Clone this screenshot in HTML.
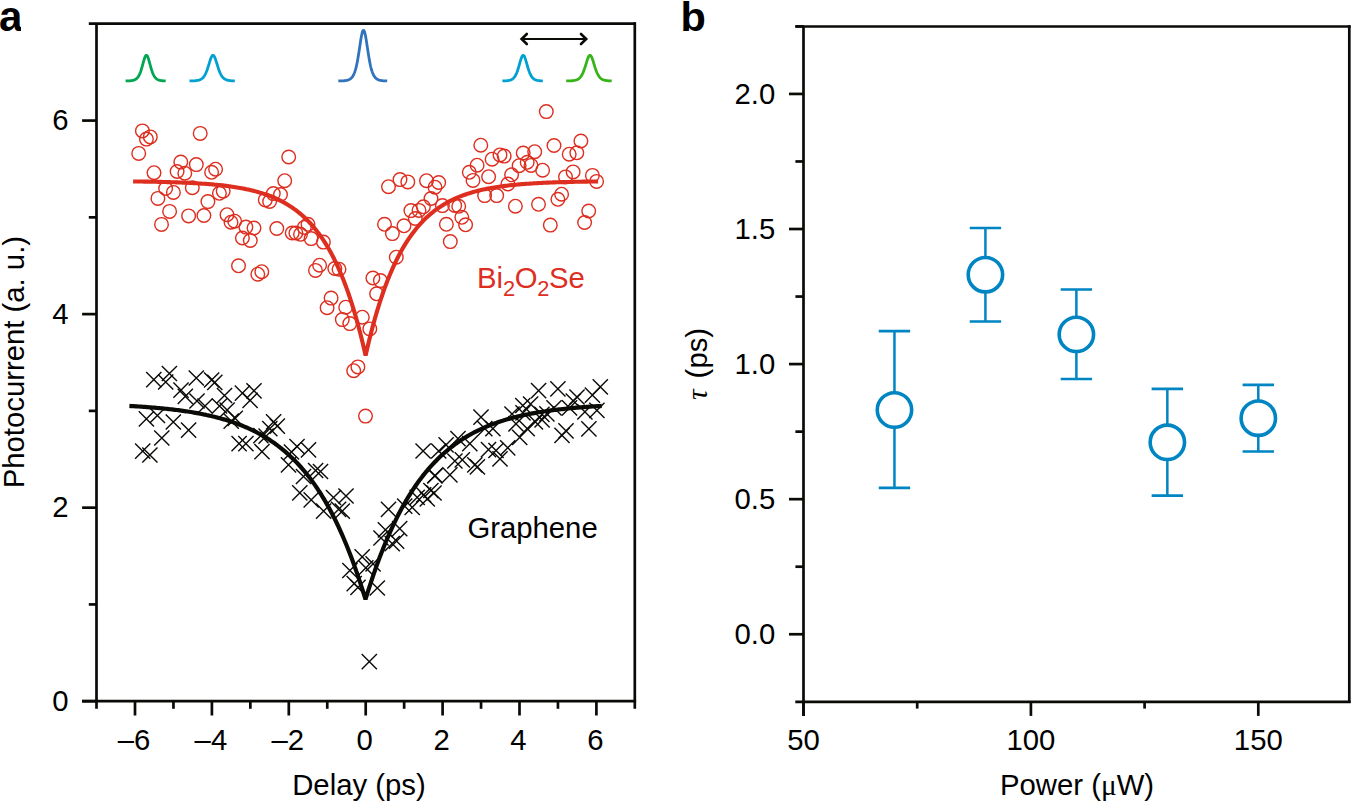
<!DOCTYPE html><html><head><meta charset="utf-8"><style>html,body{margin:0;padding:0;background:#fff;}svg{display:block;}text{font-family:"Liberation Sans",sans-serif;}</style></head><body>
<svg width="1351" height="802" viewBox="0 0 1351 802">
<rect width="1351" height="802" fill="#fff"/>
<g stroke="#0a0a07" stroke-width="2.7" fill="none" stroke-linecap="butt">
<path d="M88.8,23.6 H635.9"/>
<path d="M96.5,23.6 V708.8"/>
<path d="M634.8,22.3 V708.8"/>
<path d="M82.1,701.2 H636.1"/>
<path d="M135.00,701 V715.5"/>
<path d="M211.90,701 V715.5"/>
<path d="M288.80,701 V715.5"/>
<path d="M365.70,701 V715.5"/>
<path d="M442.60,701 V715.5"/>
<path d="M519.50,701 V715.5"/>
<path d="M596.40,701 V715.5"/>
<path d="M173.45,701 V708.8"/>
<path d="M250.35,701 V708.8"/>
<path d="M327.25,701 V708.8"/>
<path d="M404.15,701 V708.8"/>
<path d="M481.05,701 V708.8"/>
<path d="M557.95,701 V708.8"/>
<path d="M82.1,701.20 H97"/>
<path d="M82.1,507.66 H97"/>
<path d="M82.1,314.12 H97"/>
<path d="M82.1,120.58 H97"/>
<path d="M88.8,604.43 H97"/>
<path d="M88.8,410.89 H97"/>
<path d="M88.8,217.35 H97"/>
</g>
<g fill="#000">
<text transform="translate(68.60,711.00) scale(1,1.03)" font-size="29.3" text-anchor="end" >0</text>
<text transform="translate(68.60,517.46) scale(1,1.03)" font-size="29.3" text-anchor="end" >2</text>
<text transform="translate(68.60,323.92) scale(1,1.03)" font-size="29.3" text-anchor="end" >4</text>
<text transform="translate(68.60,130.38) scale(1,1.03)" font-size="29.3" text-anchor="end" >6</text>
<text transform="translate(134.00,750.20) scale(1,1.03)" font-size="29.3" text-anchor="middle" >–6</text>
<text transform="translate(210.90,750.20) scale(1,1.03)" font-size="29.3" text-anchor="middle" >–4</text>
<text transform="translate(287.80,750.20) scale(1,1.03)" font-size="29.3" text-anchor="middle" >–2</text>
<text transform="translate(364.70,750.20) scale(1,1.03)" font-size="29.3" text-anchor="middle" >0</text>
<text transform="translate(441.60,750.20) scale(1,1.03)" font-size="29.3" text-anchor="middle" >2</text>
<text transform="translate(518.50,750.20) scale(1,1.03)" font-size="29.3" text-anchor="middle" >4</text>
<text transform="translate(595.40,750.20) scale(1,1.03)" font-size="29.3" text-anchor="middle" >6</text>
<text transform="translate(292.20,795.30) scale(1,1.03)" font-size="29.3" text-anchor="start" >Delay (ps)</text>
<text transform="translate(24.3,488.3) rotate(-90) scale(1,1.03)" font-size="29.3">Photocurrent (a. u.)</text>
</g>
<defs><clipPath id="ca"><rect x="-5" y="0" width="26" height="40"/></clipPath></defs>
<text x="-0.9" y="30.6" font-size="42" font-weight="bold" clip-path="url(#ca)">a</text>
<path d="M125.60,80.96 L126.00,80.95 L126.40,80.95 L126.80,80.94 L127.20,80.93 L127.61,80.91 L128.01,80.90 L128.41,80.88 L128.81,80.87 L129.21,80.84 L129.61,80.82 L130.01,80.79 L130.41,80.75 L130.81,80.71 L131.21,80.67 L131.62,80.61 L132.02,80.55 L132.42,80.48 L132.82,80.40 L133.22,80.30 L133.62,80.19 L134.02,80.06 L134.42,79.90 L134.82,79.73 L135.22,79.53 L135.62,79.30 L136.03,79.03 L136.43,78.72 L136.83,78.37 L137.23,77.97 L137.63,77.50 L138.03,76.98 L138.43,76.38 L138.83,75.71 L139.23,74.96 L139.64,74.11 L140.04,73.17 L140.44,72.13 L140.84,71.00 L141.24,69.77 L141.64,68.45 L142.04,67.06 L142.44,65.61 L142.84,64.12 L143.24,62.62 L143.65,61.16 L144.05,59.77 L144.45,58.50 L144.85,57.38 L145.25,56.47 L145.65,55.81 L146.05,55.41 L146.45,55.30 L146.85,55.49 L147.25,55.96 L147.66,56.69 L148.06,57.65 L148.46,58.81 L148.86,60.12 L149.26,61.54 L149.66,63.01 L150.06,64.50 L150.46,65.99 L150.86,67.43 L151.26,68.80 L151.67,70.10 L152.07,71.30 L152.47,72.41 L152.87,73.42 L153.27,74.34 L153.67,75.16 L154.07,75.89 L154.47,76.55 L154.87,77.12 L155.27,77.63 L155.68,78.08 L156.08,78.46 L156.48,78.81 L156.88,79.10 L157.28,79.36 L157.68,79.58 L158.08,79.78 L158.48,79.95 L158.88,80.09 L159.28,80.22 L159.69,80.33 L160.09,80.42 L160.49,80.50 L160.89,80.57 L161.29,80.63 L161.69,80.68 L162.09,80.73 L162.49,80.76 L162.89,80.80 L163.29,80.83 L163.69,80.85 L164.10,80.87 L164.50,80.89 L164.90,80.90 L165.30,80.92 L165.70,80.93" fill="none" stroke="#00a651" stroke-width="2.8" stroke-linejoin="round" stroke-linecap="butt"/>
<path d="M189.50,80.96 L189.95,80.95 L190.41,80.94 L190.86,80.94 L191.31,80.93 L191.76,80.91 L192.22,80.90 L192.67,80.88 L193.12,80.86 L193.58,80.84 L194.03,80.82 L194.48,80.79 L194.94,80.75 L195.39,80.71 L195.84,80.66 L196.29,80.61 L196.75,80.55 L197.20,80.47 L197.65,80.39 L198.11,80.29 L198.56,80.18 L199.01,80.05 L199.47,79.90 L199.92,79.72 L200.37,79.52 L200.82,79.28 L201.28,79.01 L201.73,78.71 L202.18,78.35 L202.64,77.95 L203.09,77.48 L203.54,76.96 L204.00,76.36 L204.45,75.69 L204.90,74.93 L205.35,74.08 L205.81,73.14 L206.26,72.11 L206.71,70.97 L207.17,69.74 L207.62,68.43 L208.07,67.03 L208.53,65.58 L208.98,64.10 L209.43,62.61 L209.88,61.15 L210.34,59.76 L210.79,58.49 L211.24,57.38 L211.70,56.47 L212.15,55.81 L212.60,55.41 L213.06,55.30 L213.51,55.48 L213.96,55.95 L214.41,56.68 L214.87,57.64 L215.32,58.79 L215.77,60.10 L216.23,61.50 L216.68,62.97 L217.13,64.47 L217.59,65.95 L218.04,67.38 L218.49,68.76 L218.94,70.06 L219.40,71.26 L219.85,72.37 L220.30,73.38 L220.76,74.30 L221.21,75.13 L221.66,75.86 L222.12,76.52 L222.57,77.09 L223.02,77.60 L223.47,78.05 L223.93,78.44 L224.38,78.79 L224.83,79.08 L225.29,79.34 L225.74,79.57 L226.19,79.77 L226.65,79.93 L227.10,80.08 L227.55,80.21 L228.00,80.32 L228.46,80.41 L228.91,80.49 L229.36,80.56 L229.82,80.62 L230.27,80.68 L230.72,80.72 L231.18,80.76 L231.63,80.79 L232.08,80.82 L232.53,80.85 L232.99,80.87 L233.44,80.89 L233.89,80.90 L234.35,80.92 L234.80,80.93" fill="none" stroke="#00a0d2" stroke-width="2.8" stroke-linejoin="round" stroke-linecap="butt"/>
<path d="M338.30,80.97 L338.79,80.96 L339.28,80.95 L339.77,80.94 L340.26,80.93 L340.75,80.92 L341.23,80.91 L341.72,80.89 L342.21,80.87 L342.70,80.84 L343.19,80.82 L343.68,80.78 L344.17,80.74 L344.66,80.69 L345.15,80.64 L345.63,80.57 L346.12,80.49 L346.61,80.40 L347.10,80.29 L347.59,80.16 L348.08,80.01 L348.57,79.83 L349.06,79.62 L349.55,79.37 L350.04,79.08 L350.53,78.74 L351.01,78.33 L351.50,77.86 L351.99,77.30 L352.48,76.65 L352.97,75.89 L353.46,75.01 L353.95,73.99 L354.44,72.81 L354.93,71.45 L355.42,69.90 L355.90,68.14 L356.39,66.15 L356.88,63.92 L357.37,61.46 L357.86,58.76 L358.35,55.84 L358.84,52.74 L359.33,49.51 L359.82,46.22 L360.31,42.96 L360.79,39.83 L361.28,36.95 L361.77,34.46 L362.26,32.45 L362.75,31.04 L363.24,30.30 L363.73,30.28 L364.22,30.97 L364.71,32.33 L365.19,34.30 L365.68,36.77 L366.17,39.63 L366.66,42.74 L367.15,46.00 L367.64,49.29 L368.13,52.53 L368.62,55.64 L369.11,58.57 L369.60,61.28 L370.09,63.76 L370.57,66.01 L371.06,68.01 L371.55,69.79 L372.04,71.35 L372.53,72.72 L373.02,73.91 L373.51,74.95 L374.00,75.84 L374.49,76.60 L374.98,77.26 L375.46,77.82 L375.95,78.30 L376.44,78.71 L376.93,79.06 L377.42,79.35 L377.91,79.61 L378.40,79.82 L378.89,80.00 L379.38,80.16 L379.87,80.29 L380.35,80.40 L380.84,80.49 L381.33,80.57 L381.82,80.63 L382.31,80.69 L382.80,80.74 L383.29,80.78 L383.78,80.81 L384.27,80.84 L384.75,80.87 L385.24,80.89 L385.73,80.90 L386.22,80.92 L386.71,80.93 L387.20,80.94" fill="none" stroke="#3273be" stroke-width="2.8" stroke-linejoin="round" stroke-linecap="butt"/>
<path d="M502.40,80.95 L502.80,80.94 L503.21,80.93 L503.61,80.92 L504.02,80.90 L504.42,80.89 L504.82,80.87 L505.23,80.85 L505.63,80.83 L506.04,80.80 L506.44,80.77 L506.84,80.73 L507.25,80.69 L507.65,80.64 L508.06,80.59 L508.46,80.52 L508.86,80.45 L509.27,80.36 L509.67,80.26 L510.08,80.14 L510.48,80.01 L510.88,79.86 L511.29,79.68 L511.69,79.48 L512.10,79.25 L512.50,78.98 L512.90,78.68 L513.31,78.33 L513.71,77.93 L514.12,77.48 L514.52,76.97 L514.92,76.40 L515.33,75.75 L515.73,75.02 L516.14,74.20 L516.54,73.30 L516.94,72.31 L517.35,71.23 L517.75,70.05 L518.16,68.79 L518.56,67.46 L518.96,66.06 L519.37,64.62 L519.77,63.17 L520.18,61.73 L520.58,60.35 L520.98,59.06 L521.39,57.90 L521.79,56.91 L522.20,56.14 L522.60,55.60 L523.00,55.33 L523.41,55.34 L523.81,55.62 L524.22,56.16 L524.62,56.94 L525.02,57.93 L525.43,59.10 L525.83,60.39 L526.24,61.78 L526.64,63.21 L527.04,64.67 L527.45,66.10 L527.85,67.50 L528.26,68.83 L528.66,70.09 L529.06,71.26 L529.47,72.34 L529.87,73.33 L530.28,74.23 L530.68,75.04 L531.08,75.77 L531.49,76.41 L531.89,76.99 L532.30,77.50 L532.70,77.95 L533.10,78.34 L533.51,78.69 L533.91,78.99 L534.32,79.26 L534.72,79.49 L535.12,79.69 L535.53,79.86 L535.93,80.02 L536.34,80.15 L536.74,80.26 L537.14,80.36 L537.55,80.45 L537.95,80.52 L538.36,80.59 L538.76,80.64 L539.16,80.69 L539.57,80.73 L539.97,80.77 L540.38,80.80 L540.78,80.83 L541.18,80.85 L541.59,80.87 L541.99,80.89 L542.40,80.90 L542.80,80.92" fill="none" stroke="#00a0d2" stroke-width="2.8" stroke-linejoin="round" stroke-linecap="butt"/>
<path d="M566.20,80.96 L566.66,80.96 L567.11,80.95 L567.57,80.94 L568.02,80.93 L568.48,80.92 L568.93,80.91 L569.38,80.89 L569.84,80.88 L570.30,80.86 L570.75,80.83 L571.21,80.81 L571.66,80.77 L572.12,80.74 L572.57,80.69 L573.03,80.64 L573.48,80.59 L573.94,80.52 L574.39,80.44 L574.85,80.35 L575.30,80.25 L575.75,80.12 L576.21,79.98 L576.67,79.82 L577.12,79.63 L577.58,79.42 L578.03,79.17 L578.49,78.88 L578.94,78.55 L579.40,78.17 L579.85,77.74 L580.31,77.24 L580.76,76.68 L581.22,76.05 L581.67,75.33 L582.12,74.53 L582.58,73.63 L583.04,72.64 L583.49,71.54 L583.95,70.36 L584.40,69.08 L584.86,67.71 L585.31,66.28 L585.77,64.80 L586.22,63.30 L586.68,61.82 L587.13,60.39 L587.59,59.05 L588.04,57.86 L588.50,56.85 L588.95,56.07 L589.41,55.55 L589.86,55.31 L590.32,55.37 L590.77,55.72 L591.23,56.34 L591.68,57.21 L592.13,58.30 L592.59,59.55 L593.05,60.93 L593.50,62.39 L593.96,63.88 L594.41,65.37 L594.87,66.84 L595.32,68.25 L595.78,69.58 L596.23,70.82 L596.69,71.98 L597.14,73.03 L597.60,73.98 L598.05,74.85 L598.50,75.61 L598.96,76.30 L599.42,76.91 L599.87,77.44 L600.33,77.91 L600.78,78.32 L601.24,78.68 L601.69,78.99 L602.15,79.27 L602.60,79.50 L603.06,79.71 L603.51,79.89 L603.97,80.04 L604.42,80.17 L604.88,80.29 L605.33,80.39 L605.79,80.47 L606.24,80.55 L606.70,80.61 L607.15,80.66 L607.61,80.71 L608.06,80.75 L608.52,80.79 L608.97,80.82 L609.43,80.84 L609.88,80.86 L610.34,80.88 L610.79,80.90 L611.25,80.91 L611.70,80.93" fill="none" stroke="#36b419" stroke-width="2.8" stroke-linejoin="round" stroke-linecap="butt"/>
<g stroke="#0a0a07" fill="none"><path d="M521.5,39 H586.5" stroke-width="2.0"/><path d="M526.8,34.0 L521.6,39 L526.8,44.0" stroke-width="2.6" stroke-linecap="round" stroke-linejoin="miter"/><path d="M581.0,34.0 L586.2,39 L581.0,44.0" stroke-width="2.6" stroke-linecap="round" stroke-linejoin="miter"/></g>
<g fill="none" stroke="#dd2e1f" stroke-width="1.4">
<circle cx="142.4" cy="130.9" r="6.8"/>
<circle cx="146.4" cy="139.1" r="6.8"/>
<circle cx="150.3" cy="136.9" r="6.8"/>
<circle cx="138.7" cy="153.4" r="6.8"/>
<circle cx="200.2" cy="133.4" r="6.8"/>
<circle cx="180.8" cy="162.1" r="6.8"/>
<circle cx="196.3" cy="164.6" r="6.8"/>
<circle cx="177.1" cy="171.5" r="6.8"/>
<circle cx="184.8" cy="173.2" r="6.8"/>
<circle cx="154" cy="172.7" r="6.8"/>
<circle cx="211.6" cy="172.3" r="6.8"/>
<circle cx="215.6" cy="169.2" r="6.8"/>
<circle cx="165.6" cy="188.5" r="6.8"/>
<circle cx="192.3" cy="187.7" r="6.8"/>
<circle cx="173.4" cy="192.4" r="6.8"/>
<circle cx="157.9" cy="198.4" r="6.8"/>
<circle cx="219.4" cy="193.3" r="6.8"/>
<circle cx="223.2" cy="191.1" r="6.8"/>
<circle cx="207.9" cy="201.6" r="6.8"/>
<circle cx="265.3" cy="199.9" r="6.8"/>
<circle cx="269.6" cy="201.5" r="6.8"/>
<circle cx="273.3" cy="193.6" r="6.8"/>
<circle cx="169.6" cy="211.4" r="6.8"/>
<circle cx="161.5" cy="224.4" r="6.8"/>
<circle cx="188.6" cy="215.9" r="6.8"/>
<circle cx="203.9" cy="215.5" r="6.8"/>
<circle cx="227" cy="214.7" r="6.8"/>
<circle cx="231" cy="222.2" r="6.8"/>
<circle cx="234.7" cy="221.2" r="6.8"/>
<circle cx="245.9" cy="227.1" r="6.8"/>
<circle cx="254" cy="228" r="6.8"/>
<circle cx="242.4" cy="238" r="6.8"/>
<circle cx="250.3" cy="240.5" r="6.8"/>
<circle cx="238.5" cy="265.8" r="6.8"/>
<circle cx="257.8" cy="274.2" r="6.8"/>
<circle cx="261.8" cy="271.7" r="6.8"/>
<circle cx="288.7" cy="157" r="6.8"/>
<circle cx="284.7" cy="180.7" r="6.8"/>
<circle cx="280.5" cy="194.5" r="6.8"/>
<circle cx="388.5" cy="186.7" r="6.8"/>
<circle cx="400" cy="179.6" r="6.8"/>
<circle cx="407.8" cy="181.9" r="6.8"/>
<circle cx="426.5" cy="180.7" r="6.8"/>
<circle cx="276.8" cy="228.5" r="6.8"/>
<circle cx="292.2" cy="233" r="6.8"/>
<circle cx="295.9" cy="233" r="6.8"/>
<circle cx="300.5" cy="234.3" r="6.8"/>
<circle cx="304.3" cy="227.4" r="6.8"/>
<circle cx="308" cy="224.3" r="6.8"/>
<circle cx="311.1" cy="238.6" r="6.8"/>
<circle cx="323.4" cy="242.1" r="6.8"/>
<circle cx="319.6" cy="265.2" r="6.8"/>
<circle cx="315.5" cy="270.4" r="6.8"/>
<circle cx="334.8" cy="268.5" r="6.8"/>
<circle cx="339" cy="269.2" r="6.8"/>
<circle cx="410.9" cy="210.6" r="6.8"/>
<circle cx="419" cy="210.4" r="6.8"/>
<circle cx="423.4" cy="206.8" r="6.8"/>
<circle cx="415.3" cy="218.5" r="6.8"/>
<circle cx="384.5" cy="224.3" r="6.8"/>
<circle cx="404" cy="225.8" r="6.8"/>
<circle cx="392.4" cy="233.6" r="6.8"/>
<circle cx="396.3" cy="257.2" r="6.8"/>
<circle cx="372.9" cy="278" r="6.8"/>
<circle cx="380.4" cy="280.6" r="6.8"/>
<circle cx="331.1" cy="298.1" r="6.8"/>
<circle cx="327.1" cy="307.7" r="6.8"/>
<circle cx="345.7" cy="307.2" r="6.8"/>
<circle cx="342.3" cy="319.6" r="6.8"/>
<circle cx="349.8" cy="323.6" r="6.8"/>
<circle cx="362.3" cy="317.2" r="6.8"/>
<circle cx="369.8" cy="328.9" r="6.8"/>
<circle cx="376.6" cy="293.8" r="6.8"/>
<circle cx="357.9" cy="366.9" r="6.8"/>
<circle cx="353.7" cy="370.7" r="6.8"/>
<circle cx="365.5" cy="416.1" r="6.8"/>
<circle cx="431" cy="198.5" r="6.8"/>
<circle cx="546.3" cy="111.6" r="6.8"/>
<circle cx="480.8" cy="145.2" r="6.8"/>
<circle cx="554" cy="145.5" r="6.8"/>
<circle cx="580.9" cy="141" r="6.8"/>
<circle cx="492.1" cy="159.2" r="6.8"/>
<circle cx="500" cy="154.9" r="6.8"/>
<circle cx="504.2" cy="156.1" r="6.8"/>
<circle cx="523.2" cy="153" r="6.8"/>
<circle cx="534.7" cy="151.7" r="6.8"/>
<circle cx="569.2" cy="154.2" r="6.8"/>
<circle cx="576.8" cy="152.8" r="6.8"/>
<circle cx="477.1" cy="165.2" r="6.8"/>
<circle cx="469.3" cy="172.3" r="6.8"/>
<circle cx="473" cy="180.4" r="6.8"/>
<circle cx="488.6" cy="176.7" r="6.8"/>
<circle cx="519.1" cy="165.7" r="6.8"/>
<circle cx="527.2" cy="162.3" r="6.8"/>
<circle cx="531" cy="165.4" r="6.8"/>
<circle cx="542.6" cy="170.2" r="6.8"/>
<circle cx="511.6" cy="174.8" r="6.8"/>
<circle cx="507.9" cy="184" r="6.8"/>
<circle cx="565.5" cy="176.9" r="6.8"/>
<circle cx="573.1" cy="171.9" r="6.8"/>
<circle cx="438.7" cy="182.5" r="6.8"/>
<circle cx="435" cy="187.2" r="6.8"/>
<circle cx="442.4" cy="205.6" r="6.8"/>
<circle cx="454.7" cy="205.5" r="6.8"/>
<circle cx="458.7" cy="206.3" r="6.8"/>
<circle cx="461.8" cy="217.3" r="6.8"/>
<circle cx="465.6" cy="224.8" r="6.8"/>
<circle cx="446.4" cy="224.3" r="6.8"/>
<circle cx="450.3" cy="241.6" r="6.8"/>
<circle cx="484.6" cy="195.6" r="6.8"/>
<circle cx="496.7" cy="195.6" r="6.8"/>
<circle cx="515.4" cy="206.2" r="6.8"/>
<circle cx="538.5" cy="204.3" r="6.8"/>
<circle cx="557.9" cy="199.3" r="6.8"/>
<circle cx="561.6" cy="194.2" r="6.8"/>
<circle cx="550.3" cy="225.1" r="6.8"/>
<circle cx="592.4" cy="175.4" r="6.8"/>
<circle cx="596.6" cy="181.4" r="6.8"/>
<circle cx="588.7" cy="211" r="6.8"/>
<circle cx="584.6" cy="222.5" r="6.8"/>
</g>
<path d="M133.10,181.45 L134.65,181.47 L136.20,181.49 L137.75,181.51 L139.30,181.53 L140.85,181.55 L142.40,181.57 L143.95,181.59 L145.50,181.62 L147.05,181.64 L148.60,181.67 L150.15,181.70 L151.70,181.72 L153.25,181.75 L154.80,181.78 L156.35,181.82 L157.90,181.85 L159.45,181.88 L161.00,181.92 L162.55,181.96 L164.10,182.00 L165.65,182.04 L167.20,182.08 L168.75,182.12 L170.30,182.17 L171.85,182.21 L173.40,182.26 L174.95,182.32 L176.50,182.37 L178.05,182.42 L179.60,182.48 L181.15,182.54 L182.70,182.60 L184.25,182.67 L185.80,182.74 L187.35,182.81 L188.90,182.88 L190.45,182.96 L192.00,183.04 L193.55,183.12 L195.10,183.20 L196.65,183.29 L198.20,183.39 L199.75,183.48 L201.30,183.58 L202.85,183.69 L204.40,183.80 L205.95,183.91 L207.50,184.03 L209.05,184.15 L210.60,184.28 L212.15,184.41 L213.70,184.55 L215.25,184.70 L216.80,184.85 L218.35,185.00 L219.90,185.16 L221.45,185.33 L223.00,185.51 L224.55,185.69 L226.10,185.88 L227.65,186.08 L229.20,186.29 L230.75,186.50 L232.30,186.72 L233.85,186.96 L235.40,187.20 L236.95,187.45 L238.50,187.71 L240.05,187.98 L241.60,188.26 L243.15,188.56 L244.70,188.87 L246.25,189.18 L247.80,189.52 L249.35,189.86 L250.90,190.22 L252.45,190.59 L254.00,190.98 L255.55,191.39 L257.10,191.81 L258.65,192.25 L260.20,192.70 L261.75,193.18 L263.30,193.67 L264.85,194.19 L266.40,194.72 L267.95,195.28 L269.50,195.86 L271.05,196.46 L272.60,197.08 L274.15,197.74 L275.70,198.42 L277.25,199.12 L278.80,199.86 L280.35,200.62 L281.90,201.42 L283.45,202.24 L285.00,203.11 L286.55,204.00 L288.10,204.93 L289.65,205.90 L291.20,206.91 L292.75,207.97 L294.30,209.06 L295.85,210.20 L297.40,211.38 L298.95,212.61 L300.50,213.89 L302.05,215.23 L303.60,216.61 L305.15,218.06 L306.70,219.56 L308.25,221.12 L309.80,222.75 L311.35,224.44 L312.90,226.21 L314.45,228.04 L316.00,229.95 L317.55,231.93 L319.10,233.99 L320.65,236.14 L322.20,238.38 L323.75,240.71 L325.30,243.13 L326.85,245.64 L328.40,248.27 L329.95,250.99 L331.50,253.83 L333.05,256.78 L334.60,259.86 L336.15,263.05 L337.70,266.38 L339.25,269.84 L340.80,273.44 L342.35,277.19 L343.90,281.09 L345.45,285.15 L347.00,289.37 L348.55,293.77 L350.10,298.34 L351.65,303.10 L353.20,308.05 L354.75,313.20 L356.30,318.56 L357.85,324.13 L359.40,329.94 L360.95,335.98 L362.50,342.26 L364.05,348.80 L365.60,355.60 L365.60,355.60 L367.15,348.80 L368.70,342.26 L370.25,335.98 L371.80,329.94 L373.35,324.13 L374.90,318.56 L376.45,313.20 L378.00,308.05 L379.55,303.10 L381.10,298.34 L382.65,293.77 L384.20,289.37 L385.75,285.15 L387.30,281.09 L388.85,277.19 L390.40,273.44 L391.95,269.84 L393.50,266.38 L395.05,263.05 L396.60,259.86 L398.15,256.78 L399.70,253.83 L401.25,250.99 L402.80,248.27 L404.35,245.64 L405.90,243.13 L407.45,240.71 L409.00,238.38 L410.55,236.14 L412.10,233.99 L413.65,231.93 L415.20,229.95 L416.75,228.04 L418.30,226.21 L419.85,224.44 L421.40,222.75 L422.95,221.12 L424.50,219.56 L426.05,218.06 L427.60,216.61 L429.15,215.23 L430.70,213.89 L432.25,212.61 L433.80,211.38 L435.35,210.20 L436.90,209.06 L438.45,207.97 L440.00,206.91 L441.55,205.90 L443.10,204.93 L444.65,204.00 L446.20,203.11 L447.75,202.24 L449.30,201.42 L450.85,200.62 L452.40,199.86 L453.95,199.12 L455.50,198.42 L457.05,197.74 L458.60,197.08 L460.15,196.46 L461.70,195.86 L463.25,195.28 L464.80,194.72 L466.35,194.19 L467.90,193.67 L469.45,193.18 L471.00,192.70 L472.55,192.25 L474.10,191.81 L475.65,191.39 L477.20,190.98 L478.75,190.59 L480.30,190.22 L481.85,189.86 L483.40,189.52 L484.95,189.18 L486.50,188.87 L488.05,188.56 L489.60,188.26 L491.15,187.98 L492.70,187.71 L494.25,187.45 L495.80,187.20 L497.35,186.96 L498.90,186.72 L500.45,186.50 L502.00,186.29 L503.55,186.08 L505.10,185.88 L506.65,185.69 L508.20,185.51 L509.75,185.33 L511.30,185.16 L512.85,185.00 L514.40,184.85 L515.95,184.70 L517.50,184.55 L519.05,184.41 L520.60,184.28 L522.15,184.15 L523.70,184.03 L525.25,183.91 L526.80,183.80 L528.35,183.69 L529.90,183.58 L531.45,183.48 L533.00,183.39 L534.55,183.29 L536.10,183.20 L537.65,183.12 L539.20,183.04 L540.75,182.96 L542.30,182.88 L543.85,182.81 L545.40,182.74 L546.95,182.67 L548.50,182.60 L550.05,182.54 L551.60,182.48 L553.15,182.42 L554.70,182.37 L556.25,182.32 L557.80,182.26 L559.35,182.21 L560.90,182.17 L562.45,182.12 L564.00,182.08 L565.55,182.04 L567.10,182.00 L568.65,181.96 L570.20,181.92 L571.75,181.88 L573.30,181.85 L574.85,181.82 L576.40,181.78 L577.95,181.75 L579.50,181.72 L581.05,181.70 L582.60,181.67 L584.15,181.64 L585.70,181.62 L587.25,181.59 L588.80,181.57 L590.35,181.55 L591.90,181.53 L593.45,181.51 L595.00,181.49 L596.55,181.47 L598.10,181.45" fill="none" stroke="#dd2e1f" stroke-width="4.1" stroke-linejoin="bevel"/>
<g fill="none" stroke="#0a0a07" stroke-width="1.4">
<path d="M146.2,372.0 L161.4,387.2 M146.2,387.2 L161.4,372.0"/>
<path d="M161.8,365.9 L177.0,381.1 M161.8,381.1 L177.0,365.9"/>
<path d="M158.1,374.4 L173.3,389.6 M158.1,389.6 L173.3,374.4"/>
<path d="M188.7,370.4 L203.9,385.6 M188.7,385.6 L203.9,370.4"/>
<path d="M173.4,382.6 L188.6,397.8 M173.4,397.8 L188.6,382.6"/>
<path d="M177.7,388.8 L192.9,404.0 M177.7,404.0 L192.9,388.8"/>
<path d="M204.0,372.4 L219.2,387.6 M204.0,387.6 L219.2,372.4"/>
<path d="M207.2,374.8 L222.4,390.0 M207.2,390.0 L222.4,374.8"/>
<path d="M189.4,393.4 L204.6,408.6 M189.4,408.6 L204.6,393.4"/>
<path d="M197.4,398.4 L212.6,413.6 M197.4,413.6 L212.6,398.4"/>
<path d="M211.9,398.4 L227.1,413.6 M211.9,413.6 L227.1,398.4"/>
<path d="M216.9,387.9 L232.1,403.1 M216.9,403.1 L232.1,387.9"/>
<path d="M234.8,385.5 L250.0,400.7 M234.8,400.7 L250.0,385.5"/>
<path d="M242.5,392.8 L257.7,408.0 M242.5,408.0 L257.7,392.8"/>
<path d="M246.4,383.2 L261.6,398.4 M246.4,398.4 L261.6,383.2"/>
<path d="M219.5,402.4 L234.7,417.6 M219.5,417.6 L234.7,402.4"/>
<path d="M227.6,410.7 L242.8,425.9 M227.6,425.9 L242.8,410.7"/>
<path d="M138.8,411.3 L154.0,426.5 M138.8,426.5 L154.0,411.3"/>
<path d="M149.8,407.9 L165.0,423.1 M149.8,423.1 L165.0,407.9"/>
<path d="M165.7,414.4 L180.9,429.6 M165.7,429.6 L180.9,414.4"/>
<path d="M181.0,422.6 L196.2,437.8 M181.0,437.8 L196.2,422.6"/>
<path d="M154.2,430.4 L169.4,445.6 M154.2,445.6 L169.4,430.4"/>
<path d="M135.1,443.5 L150.3,458.7 M135.1,458.7 L150.3,443.5"/>
<path d="M142.3,447.4 L157.5,462.6 M142.3,462.6 L157.5,447.4"/>
<path d="M231.5,436.0 L246.7,451.2 M231.5,451.2 L246.7,436.0"/>
<path d="M238.3,436.0 L253.5,451.2 M238.3,451.2 L253.5,436.0"/>
<path d="M254.4,444.1 L269.6,459.3 M254.4,459.3 L269.6,444.1"/>
<path d="M253.3,428.0 L268.5,443.2 M253.3,443.2 L268.5,428.0"/>
<path d="M266.0,414.2 L281.2,429.4 M266.0,429.4 L281.2,414.2"/>
<path d="M269.7,418.6 L284.9,433.8 M269.7,433.8 L284.9,418.6"/>
<path d="M262.2,421.1 L277.4,436.3 M262.2,436.3 L277.4,421.1"/>
<path d="M258.5,428.6 L273.7,443.8 M258.5,443.8 L273.7,428.6"/>
<path d="M223.6,413.6 L238.8,428.8 M223.6,428.8 L238.8,413.6"/>
<path d="M300.9,442.3 L316.1,457.5 M300.9,457.5 L316.1,442.3"/>
<path d="M283.9,444.4 L299.1,459.6 M283.9,459.6 L299.1,444.4"/>
<path d="M289.4,438.9 L304.6,454.1 M289.4,454.1 L304.6,438.9"/>
<path d="M280.9,457.2 L296.1,472.4 M280.9,472.4 L296.1,457.2"/>
<path d="M308.0,462.9 L323.2,478.1 M308.0,478.1 L323.2,462.9"/>
<path d="M312.9,463.9 L328.1,479.1 M312.9,479.1 L328.1,463.9"/>
<path d="M292.2,485.3 L307.4,500.5 M292.2,500.5 L307.4,485.3"/>
<path d="M338.4,488.4 L353.6,503.6 M338.4,503.6 L353.6,488.4"/>
<path d="M325.9,489.9 L341.1,505.1 M325.9,505.1 L341.1,489.9"/>
<path d="M295.9,468.9 L311.1,484.1 M295.9,484.1 L311.1,468.9"/>
<path d="M303.6,492.3 L318.8,507.5 M303.6,507.5 L318.8,492.3"/>
<path d="M316.0,503.5 L331.2,518.7 M316.0,518.7 L331.2,503.5"/>
<path d="M331.0,501.7 L346.2,516.9 M331.0,516.9 L346.2,501.7"/>
<path d="M334.7,503.5 L349.9,518.7 M334.7,518.7 L349.9,503.5"/>
<path d="M380.9,501.7 L396.1,516.9 M380.9,516.9 L396.1,501.7"/>
<path d="M397.1,498.6 L412.3,513.8 M397.1,513.8 L412.3,498.6"/>
<path d="M404.6,499.8 L419.8,515.0 M404.6,515.0 L419.8,499.8"/>
<path d="M423.3,482.9 L438.5,498.1 M423.3,498.1 L438.5,482.9"/>
<path d="M419.7,491.4 L434.9,506.6 M419.7,506.6 L434.9,491.4"/>
<path d="M427.3,468.4 L442.5,483.6 M427.3,483.6 L442.5,468.4"/>
<path d="M426.4,485.4 L441.6,500.6 M426.4,500.6 L441.6,485.4"/>
<path d="M409.6,489.8 L424.8,505.0 M409.6,505.0 L424.8,489.8"/>
<path d="M377.8,522.3 L393.0,537.5 M377.8,537.5 L393.0,522.3"/>
<path d="M392.1,521.0 L407.3,536.2 M392.1,536.2 L407.3,521.0"/>
<path d="M389.0,533.5 L404.2,548.7 M389.0,548.7 L404.2,533.5"/>
<path d="M384.6,536.0 L399.8,551.2 M384.6,551.2 L399.8,536.0"/>
<path d="M373.4,530.4 L388.6,545.6 M373.4,545.6 L388.6,530.4"/>
<path d="M354.6,549.3 L369.8,564.5 M354.6,564.5 L369.8,549.3"/>
<path d="M358.2,560.2 L373.4,575.4 M358.2,575.4 L373.4,560.2"/>
<path d="M365.5,556.2 L380.7,571.4 M365.5,571.4 L380.7,556.2"/>
<path d="M342.3,562.9 L357.5,578.1 M342.3,578.1 L357.5,562.9"/>
<path d="M346.6,576.0 L361.8,591.2 M346.6,591.2 L361.8,576.0"/>
<path d="M350.4,579.8 L365.6,595.0 M350.4,595.0 L365.6,579.8"/>
<path d="M369.7,580.4 L384.9,595.6 M369.7,595.6 L384.9,580.4"/>
<path d="M361.7,654.1 L376.9,669.3 M361.7,669.3 L376.9,654.1"/>
<path d="M415.5,443.4 L430.7,458.6 M415.5,458.6 L430.7,443.4"/>
<path d="M431.1,443.4 L446.3,458.6 M431.1,458.6 L446.3,443.4"/>
<path d="M438.5,437.2 L453.7,452.4 M438.5,452.4 L453.7,437.2"/>
<path d="M450.4,431.0 L465.6,446.2 M450.4,446.2 L465.6,431.0"/>
<path d="M462.2,436.0 L477.4,451.2 M462.2,451.2 L477.4,436.0"/>
<path d="M473.4,409.5 L488.6,424.7 M473.4,424.7 L488.6,409.5"/>
<path d="M477.2,421.0 L492.4,436.2 M477.2,436.2 L492.4,421.0"/>
<path d="M485.3,421.0 L500.5,436.2 M485.3,436.2 L500.5,421.0"/>
<path d="M480.9,442.1 L496.1,457.3 M480.9,457.3 L496.1,442.1"/>
<path d="M488.4,442.9 L503.6,458.1 M488.4,458.1 L503.6,442.9"/>
<path d="M492.4,451.2 L507.6,466.4 M492.4,466.4 L507.6,451.2"/>
<path d="M500.1,440.2 L515.3,455.4 M500.1,455.4 L515.3,440.2"/>
<path d="M512.1,429.7 L527.3,444.9 M512.1,444.9 L527.3,429.7"/>
<path d="M504.4,406.4 L519.6,421.6 M504.4,421.6 L519.6,406.4"/>
<path d="M515.2,397.9 L530.4,413.1 M515.2,413.1 L530.4,397.9"/>
<path d="M523.0,396.4 L538.2,411.6 M523.0,411.6 L538.2,396.4"/>
<path d="M519.6,421.0 L534.8,436.2 M519.6,436.2 L534.8,421.0"/>
<path d="M531.0,383.1 L546.2,398.3 M531.0,398.3 L546.2,383.1"/>
<path d="M550.3,381.3 L565.5,396.5 M550.3,396.5 L565.5,381.3"/>
<path d="M534.5,412.3 L549.7,427.5 M534.5,427.5 L549.7,412.3"/>
<path d="M447.3,453.4 L462.5,468.6 M447.3,468.6 L462.5,453.4"/>
<path d="M467.2,457.2 L482.4,472.4 M467.2,472.4 L482.4,457.2"/>
<path d="M454.7,452.2 L469.9,467.4 M454.7,467.4 L469.9,452.2"/>
<path d="M469.8,459.2 L485.0,474.4 M469.8,474.4 L485.0,459.2"/>
<path d="M442.3,467.3 L457.5,482.5 M442.3,482.5 L457.5,467.3"/>
<path d="M427.4,467.9 L442.6,483.1 M427.4,483.1 L442.6,467.9"/>
<path d="M416.1,487.2 L431.3,502.4 M416.1,502.4 L431.3,487.2"/>
<path d="M554.4,427.7 L569.6,442.9 M554.4,442.9 L569.6,427.7"/>
<path d="M558.4,423.2 L573.6,438.4 M558.4,438.4 L573.6,423.2"/>
<path d="M592.7,379.2 L607.9,394.4 M592.7,394.4 L607.9,379.2"/>
<path d="M584.8,387.6 L600.0,402.8 M584.8,402.8 L600.0,387.6"/>
<path d="M569.4,389.4 L584.6,404.6 M569.4,404.6 L584.6,389.4"/>
<path d="M565.7,393.4 L580.9,408.6 M565.7,408.6 L580.9,393.4"/>
<path d="M546.4,400.3 L561.6,415.5 M546.4,415.5 L561.6,400.3"/>
<path d="M561.9,400.3 L577.1,415.5 M561.9,415.5 L577.1,400.3"/>
<path d="M515.4,405.3 L530.6,420.5 M515.4,420.5 L530.6,405.3"/>
<path d="M534.3,406.8 L549.5,422.0 M534.3,422.0 L549.5,406.8"/>
<path d="M539.3,406.3 L554.5,421.5 M539.3,421.5 L554.5,406.3"/>
<path d="M577.3,404.3 L592.5,419.5 M577.3,419.5 L592.5,404.3"/>
<path d="M589.3,402.8 L604.5,418.0 M589.3,418.0 L604.5,402.8"/>
<path d="M581.3,421.3 L596.5,436.5 M581.3,436.5 L596.5,421.3"/>
<path d="M527.8,414.2 L543.0,429.4 M527.8,429.4 L543.0,414.2"/>
<path d="M508.4,416.2 L523.6,431.4 M508.4,431.4 L523.6,416.2"/>
</g>
<path d="M129.40,405.95 L130.97,406.04 L132.55,406.13 L134.12,406.22 L135.70,406.32 L137.27,406.41 L138.85,406.51 L140.42,406.62 L141.99,406.72 L143.57,406.83 L145.14,406.94 L146.72,407.06 L148.29,407.18 L149.87,407.30 L151.44,407.43 L153.02,407.56 L154.59,407.69 L156.16,407.82 L157.74,407.97 L159.31,408.11 L160.89,408.26 L162.46,408.41 L164.04,408.57 L165.61,408.73 L167.18,408.90 L168.76,409.07 L170.33,409.24 L171.91,409.42 L173.48,409.61 L175.06,409.80 L176.63,410.00 L178.20,410.20 L179.78,410.41 L181.35,410.62 L182.93,410.84 L184.50,411.07 L186.08,411.30 L187.65,411.54 L189.22,411.79 L190.80,412.04 L192.37,412.30 L193.95,412.57 L195.52,412.84 L197.10,413.12 L198.67,413.41 L200.25,413.71 L201.82,414.02 L203.39,414.34 L204.97,414.66 L206.54,415.00 L208.12,415.34 L209.69,415.69 L211.27,416.06 L212.84,416.43 L214.41,416.81 L215.99,417.21 L217.56,417.62 L219.14,418.03 L220.71,418.46 L222.29,418.90 L223.86,419.36 L225.43,419.82 L227.01,420.30 L228.58,420.80 L230.16,421.31 L231.73,421.83 L233.31,422.36 L234.88,422.92 L236.45,423.48 L238.03,424.07 L239.60,424.66 L241.18,425.28 L242.75,425.91 L244.33,426.57 L245.90,427.24 L247.48,427.92 L249.05,428.63 L250.62,429.36 L252.20,430.11 L253.77,430.88 L255.35,431.67 L256.92,432.48 L258.50,433.32 L260.07,434.17 L261.64,435.06 L263.22,435.97 L264.79,436.90 L266.37,437.86 L267.94,438.84 L269.52,439.86 L271.09,440.90 L272.66,441.97 L274.24,443.07 L275.81,444.20 L277.39,445.37 L278.96,446.56 L280.54,447.79 L282.11,449.06 L283.68,450.35 L285.26,451.69 L286.83,453.06 L288.41,454.47 L289.98,455.92 L291.56,457.41 L293.13,458.94 L294.71,460.51 L296.28,462.13 L297.85,463.79 L299.43,465.50 L301.00,467.25 L302.58,469.06 L304.15,470.91 L305.73,472.82 L307.30,474.77 L308.87,476.78 L310.45,478.85 L312.02,480.97 L313.60,483.15 L315.17,485.40 L316.75,487.70 L318.32,490.06 L319.89,492.50 L321.47,494.99 L323.04,497.56 L324.62,500.19 L326.19,502.90 L327.77,505.68 L329.34,508.54 L330.91,511.47 L332.49,514.49 L334.06,517.58 L335.64,520.76 L337.21,524.02 L338.79,527.37 L340.36,530.82 L341.94,534.35 L343.51,537.97 L345.08,541.70 L346.66,545.52 L348.23,549.44 L349.81,553.46 L351.38,557.59 L352.96,561.82 L354.53,566.16 L356.10,570.61 L357.68,575.17 L359.25,579.84 L360.83,584.61 L362.40,589.49 L363.98,594.46 L365.50,599.30 L365.55,599.15 L367.12,594.15 L368.70,589.18 L370.27,584.31 L371.85,579.54 L373.42,574.88 L375.00,570.32 L376.57,565.88 L378.14,561.55 L379.72,557.32 L381.29,553.20 L382.87,549.19 L384.44,545.27 L386.02,541.46 L387.59,537.74 L389.17,534.12 L390.74,530.59 L392.31,527.16 L393.89,523.81 L395.46,520.56 L397.04,517.38 L398.61,514.29 L400.19,511.28 L401.76,508.36 L403.33,505.50 L404.91,502.73 L406.48,500.02 L408.06,497.39 L409.63,494.83 L411.21,492.34 L412.78,489.91 L414.35,487.55 L415.93,485.25 L417.50,483.01 L419.08,480.84 L420.65,478.72 L422.23,476.65 L423.80,474.65 L425.37,472.69 L426.95,470.79 L428.52,468.94 L430.10,467.14 L431.67,465.39 L433.25,463.68 L434.82,462.03 L436.40,460.41 L437.97,458.84 L439.54,457.31 L441.12,455.83 L442.69,454.38 L444.27,452.97 L445.84,451.60 L447.42,450.27 L448.99,448.97 L450.56,447.71 L452.14,446.49 L453.71,445.29 L455.29,444.13 L456.86,443.00 L458.44,441.90 L460.01,440.83 L461.58,439.79 L463.16,438.78 L464.73,437.80 L466.31,436.84 L467.88,435.91 L469.46,435.00 L471.03,434.12 L472.60,433.26 L474.18,432.43 L475.75,431.62 L477.33,430.83 L478.90,430.06 L480.48,429.31 L482.05,428.59 L483.62,427.88 L485.20,427.19 L486.77,426.52 L488.35,425.87 L489.92,425.24 L491.50,424.63 L493.07,424.03 L494.65,423.45 L496.22,422.88 L497.79,422.33 L499.37,421.79 L500.94,421.27 L502.52,420.77 L504.09,420.27 L505.67,419.79 L507.24,419.33 L508.81,418.88 L510.39,418.43 L511.96,418.01 L513.54,417.59 L515.11,417.18 L516.69,416.79 L518.26,416.41 L519.83,416.03 L521.41,415.67 L522.98,415.32 L524.56,414.97 L526.13,414.64 L527.71,414.32 L529.28,414.00 L530.86,413.69 L532.43,413.40 L534.00,413.11 L535.58,412.82 L537.15,412.55 L538.73,412.28 L540.30,412.02 L541.88,411.77 L543.45,411.52 L545.02,411.29 L546.60,411.05 L548.17,410.83 L549.75,410.61 L551.32,410.39 L552.90,410.19 L554.47,409.99 L556.04,409.79 L557.62,409.60 L559.19,409.41 L560.77,409.23 L562.34,409.06 L563.92,408.89 L565.49,408.72 L567.06,408.56 L568.64,408.40 L570.21,408.25 L571.79,408.10 L573.36,407.96 L574.94,407.82 L576.51,407.68 L578.09,407.55 L579.66,407.42 L581.23,407.29 L582.81,407.17 L584.38,407.05 L585.96,406.94 L587.53,406.82 L589.11,406.72 L590.68,406.61 L592.25,406.51 L593.83,406.41 L595.40,406.31 L596.98,406.21 L598.55,406.12 L600.13,406.03 L601.70,405.95" fill="none" stroke="#0a0a07" stroke-width="4.2" stroke-linejoin="bevel"/>
<text transform="translate(477.00,288.40) scale(1,1.03)" font-size="29.3" text-anchor="start" fill="#dd2e1f">Bi<tspan font-size="21.8" dy="7.5">2</tspan><tspan dy="-7.5" dx="-0.5">O</tspan><tspan font-size="21.8" dy="7.5" dx="-0.3">2</tspan><tspan dy="-7.5" dx="-0.4">Se</tspan></text>
<text transform="translate(467.40,538.30) scale(1,1.03)" font-size="29.3" text-anchor="start" >Graphene</text>
<g stroke="#0a0a07" stroke-width="2.7" fill="none">
<path d="M795.3,26.5 H1350.6"/>
<path d="M803.5,26.5 V715.9"/>
<path d="M1349.3,25.2 V703"/>
<path d="M795.3,701.8 H1350.6"/>
<path d="M803.50,701.5 V715.9"/>
<path d="M1030.90,701.5 V715.9"/>
<path d="M1258.30,701.5 V715.9"/>
<path d="M917.20,701.5 V708.6"/>
<path d="M1144.60,701.5 V708.6"/>
<path d="M789,634.25 H804"/>
<path d="M789,499.17 H804"/>
<path d="M789,364.09 H804"/>
<path d="M789,229.01 H804"/>
<path d="M789,93.93 H804"/>
<path d="M795.4,566.71 H804"/>
<path d="M795.4,431.63 H804"/>
<path d="M795.4,296.55 H804"/>
<path d="M795.4,161.47 H804"/>
<path d="M795.4,26.39 H804"/>
</g>
<g fill="#000">
<text transform="translate(775.20,644.25) scale(1,1.03)" font-size="29.3" text-anchor="end" >0.0</text>
<text transform="translate(775.20,509.17) scale(1,1.03)" font-size="29.3" text-anchor="end" >0.5</text>
<text transform="translate(775.20,374.09) scale(1,1.03)" font-size="29.3" text-anchor="end" >1.0</text>
<text transform="translate(775.20,239.01) scale(1,1.03)" font-size="29.3" text-anchor="end" >1.5</text>
<text transform="translate(775.20,103.93) scale(1,1.03)" font-size="29.3" text-anchor="end" >2.0</text>
<text transform="translate(803.50,750.40) scale(1,1.03)" font-size="29.3" text-anchor="middle" >50</text>
<text transform="translate(1030.90,750.40) scale(1,1.03)" font-size="29.3" text-anchor="middle" >100</text>
<text transform="translate(1258.30,750.40) scale(1,1.03)" font-size="29.3" text-anchor="middle" >150</text>
<text transform="translate(1000.00,795.30) scale(1,1.03)" font-size="29.3" text-anchor="start" >Power (<tspan font-family="Liberation Serif">μ</tspan>W)</text>
<text transform="translate(706.5,400) rotate(-90) scale(1,1.03)" font-size="29.3"><tspan font-family="Liberation Serif" font-style="italic">τ</tspan><tspan dx="3"> (ps)</tspan></text>
</g>
<text x="680.6" y="31.0" font-size="41.5" font-weight="bold">b</text>
<g stroke="#0085c3" fill="none">
<path d="M894.46,331.2 V393.0 M894.46,427.0 V487.8" stroke-width="2.5"/>
<path d="M878.76,331.2 H910.16 M878.76,487.8 H910.16" stroke-width="2.7"/>
<circle cx="894.46" cy="410.0" r="17.2" stroke-width="3.6" fill="#fff"/>
<path d="M985.42,228.0 V257.7 M985.42,291.7 V321.5" stroke-width="2.5"/>
<path d="M969.72,228.0 H1001.12 M969.72,321.5 H1001.12" stroke-width="2.7"/>
<circle cx="985.42" cy="274.7" r="17.2" stroke-width="3.6" fill="#fff"/>
<path d="M1076.38,289.5 V317.4 M1076.38,351.4 V379.0" stroke-width="2.5"/>
<path d="M1060.68,289.5 H1092.08 M1060.68,379.0 H1092.08" stroke-width="2.7"/>
<circle cx="1076.38" cy="334.4" r="17.2" stroke-width="3.6" fill="#fff"/>
<path d="M1167.34,388.9 V425.3 M1167.34,459.3 V495.7" stroke-width="2.5"/>
<path d="M1151.64,388.9 H1183.04 M1151.64,495.7 H1183.04" stroke-width="2.7"/>
<circle cx="1167.34" cy="442.3" r="17.2" stroke-width="3.6" fill="#fff"/>
<path d="M1258.30,384.8 V401.2 M1258.30,435.2 V451.5" stroke-width="2.5"/>
<path d="M1242.60,384.8 H1274.00 M1242.60,451.5 H1274.00" stroke-width="2.7"/>
<circle cx="1258.30" cy="418.2" r="17.2" stroke-width="3.6" fill="#fff"/>
</g>
</svg></body></html>
